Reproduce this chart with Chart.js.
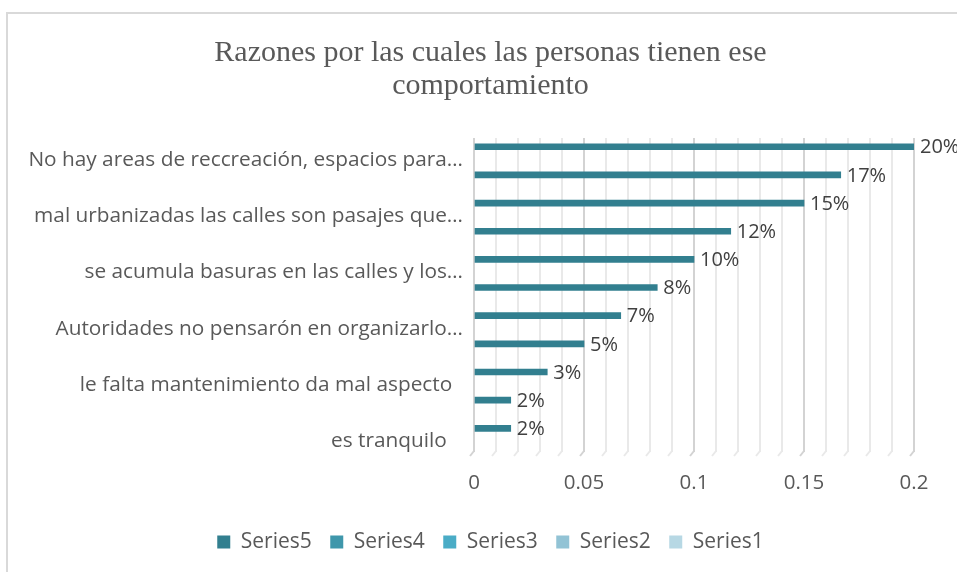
<!DOCTYPE html>
<html>
<head>
<meta charset="utf-8">
<script src="https://cdn.jsdelivr.net/npm/chart.js@4.4.1/dist/chart.umd.min.js"></script>
<style>
  html, body { margin: 0; padding: 0; background: #ffffff; }
  #wrap { position: relative; width: 957px; height: 572px; overflow: hidden; }
  #frame { position: absolute; left: 6px; top: 12px; width: 1000px; height: 600px;
           border-left: 2px solid #d9d9d9; border-top: 2px solid #d9d9d9; }
  #c { position: absolute; left: 0; top: 0; }
</style>
</head>
<body>
<div id="wrap">
  <div id="frame"></div>
  <canvas id="c" width="957" height="572"></canvas>
</div>
<script>
// Chart title (two lines)
const titleLines = ['Razones por las cuales las personas tienen ese', 'comportamiento'];

// Rows from top to bottom; only every other row carries a visible name
const categories = [
  'No hay areas de reccreación, espacios para…',
  '',
  'mal urbanizadas las calles son pasajes que…',
  '',
  'se acumula basuras en las calles y los…',
  '',
  'Autoridades no pensarón en organizarlo…',
  '',
  'le falta mantenimiento da mal aspecto  ',
  '',
  'es tranquilo   '
];

// Share of answers per row (fractions)
const shares = [0.2, 0.1667, 0.15, 0.1167, 0.1, 0.0833, 0.0667, 0.05, 0.0333, 0.0167, 0.0167];

// Legend series
const seriesNames = ['Series5', 'Series4', 'Series3', 'Series2', 'Series1'];
const seriesColors = ['#327f8f', '#3f97ab', '#4aacc6', '#92c3d5', '#b7d8e4'];

// Labelled positions on the value axis
const xTickLabels = [0, 0.05, 0.1, 0.15, 0.2];

const labelledRows = categories.map((c, i) => (c ? i : null)).filter(v => v !== null);
const matchTick = v => xTickLabels.find(t => Math.abs(t - v) < 1e-9);
const gridColor = v => (matchTick(v) !== undefined ? '#d3d3d3' : '#e9e9e9');

// Percentage text at the end of each bar
const valueLabels = {
  id: 'valueLabels',
  afterDatasetsDraw(chart) {
    const meta = chart.getDatasetMeta(0);
    const ds = chart.data.datasets[0];
    const ctx = chart.ctx;
    ctx.save();
    ctx.font = '20px "Open Sans"';
    ctx.fillStyle = '#404040';
    ctx.textAlign = 'left';
    ctx.textBaseline = 'middle';
    meta.data.forEach((bar, i) => {
      const v = ds.data[i].x;
      ctx.fillText(Math.round(v * 100) + '%', bar.x + 6, bar.y + 1);
    });
    ctx.restore();
  }
};

// Small slanted foot under every vertical gridline (floor of the 3-D wall)
const gridFeet = {
  id: 'gridFeet',
  beforeDatasetsDraw(chart) {
    const xs = chart.scales.x;
    const bottom = chart.chartArea.bottom;
    const ctx = chart.ctx;
    ctx.save();
    ctx.lineWidth = 2;
    xs.ticks.forEach(t => {
      const px = xs.getPixelForValue(t.value);
      ctx.strokeStyle = gridColor(t.value);
      ctx.beginPath();
      ctx.moveTo(px, bottom - 1);
      ctx.lineTo(px - 4, bottom + 4);
      ctx.stroke();
    });
    ctx.restore();
  }
};

function draw() {
  const datasets = seriesNames.map((name, k) => ({
    label: name,
    data: k === 0 ? shares.map((v, i) => ({ x: v, y: i })) : [],
    backgroundColor: seriesColors[k],
    borderWidth: 0,
    barThickness: 6,
    grouped: false
  }));

  new Chart(document.getElementById('c'), {
    type: 'bar',
    data: { datasets },
    options: {
      indexAxis: 'y',
      responsive: false,
      animation: false,
      layout: { padding: { left: 24, right: 0, top: 0, bottom: 9.5 } },
      scales: {
        x: {
          type: 'linear',
          min: 0,
          max: 0.2,
          afterFit: s => { s.height = 61; },
          ticks: {
            stepSize: 0.01,
            autoSkip: false,
            minRotation: 0,
            maxRotation: 0,
            padding: 19,
            color: '#595959',
            font: { family: 'Open Sans', size: 20.5 },
            callback: v => {
              const t = matchTick(v);
              return t === undefined ? '' : String(t);
            }
          },
          grid: {
            drawTicks: false,
            lineWidth: 2,
            color: ctx => (ctx.tick ? gridColor(ctx.tick.value) : '#e9e9e9')
          },
          border: { display: false }
        },
        y: {
          type: 'linear',
          reverse: true,
          offset: false,
          min: -0.31,
          max: 10.84,
          afterBuildTicks: axis => { axis.ticks = labelledRows.map(v => ({ value: v })); },
          afterFit: s => { s.width = 450; },
          ticks: {
            autoSkip: false,
            labelOffset: 13,
            padding: 11,
            color: '#595959',
            font: { family: 'Open Sans', size: 20.8 },
            callback: v => categories[v]
          },
          grid: { display: false, drawTicks: false },
          border: { display: false }
        },
        // empty strip on the right that keeps room for the end labels
        y2: {
          type: 'linear',
          position: 'right',
          display: true,
          afterFit: s => { s.width = 43; },
          ticks: { display: false },
          grid: { display: false, drawTicks: false },
          border: { display: false }
        }
      },
      plugins: {
        title: {
          display: true,
          text: titleLines,
          color: '#595959',
          font: { family: 'Liberation Serif', size: 30, weight: 'normal', lineHeight: 1.12 },
          padding: { top: 36, bottom: 34.8 }
        },
        legend: {
          position: 'bottom',
          labels: {
            boxWidth: 13,
            boxHeight: 13,
            padding: 18.5,
            color: '#595959',
            font: { family: 'Open Sans', size: 21 }
          }
        },
        tooltip: { enabled: false }
      }
    },
    plugins: [gridFeet, valueLabels]
  });
}

Promise.all([
  document.fonts.load('20px "Open Sans"'),
  document.fonts.load('30px "Liberation Serif"')
]).then(draw, draw);
</script>
</body>
</html>
